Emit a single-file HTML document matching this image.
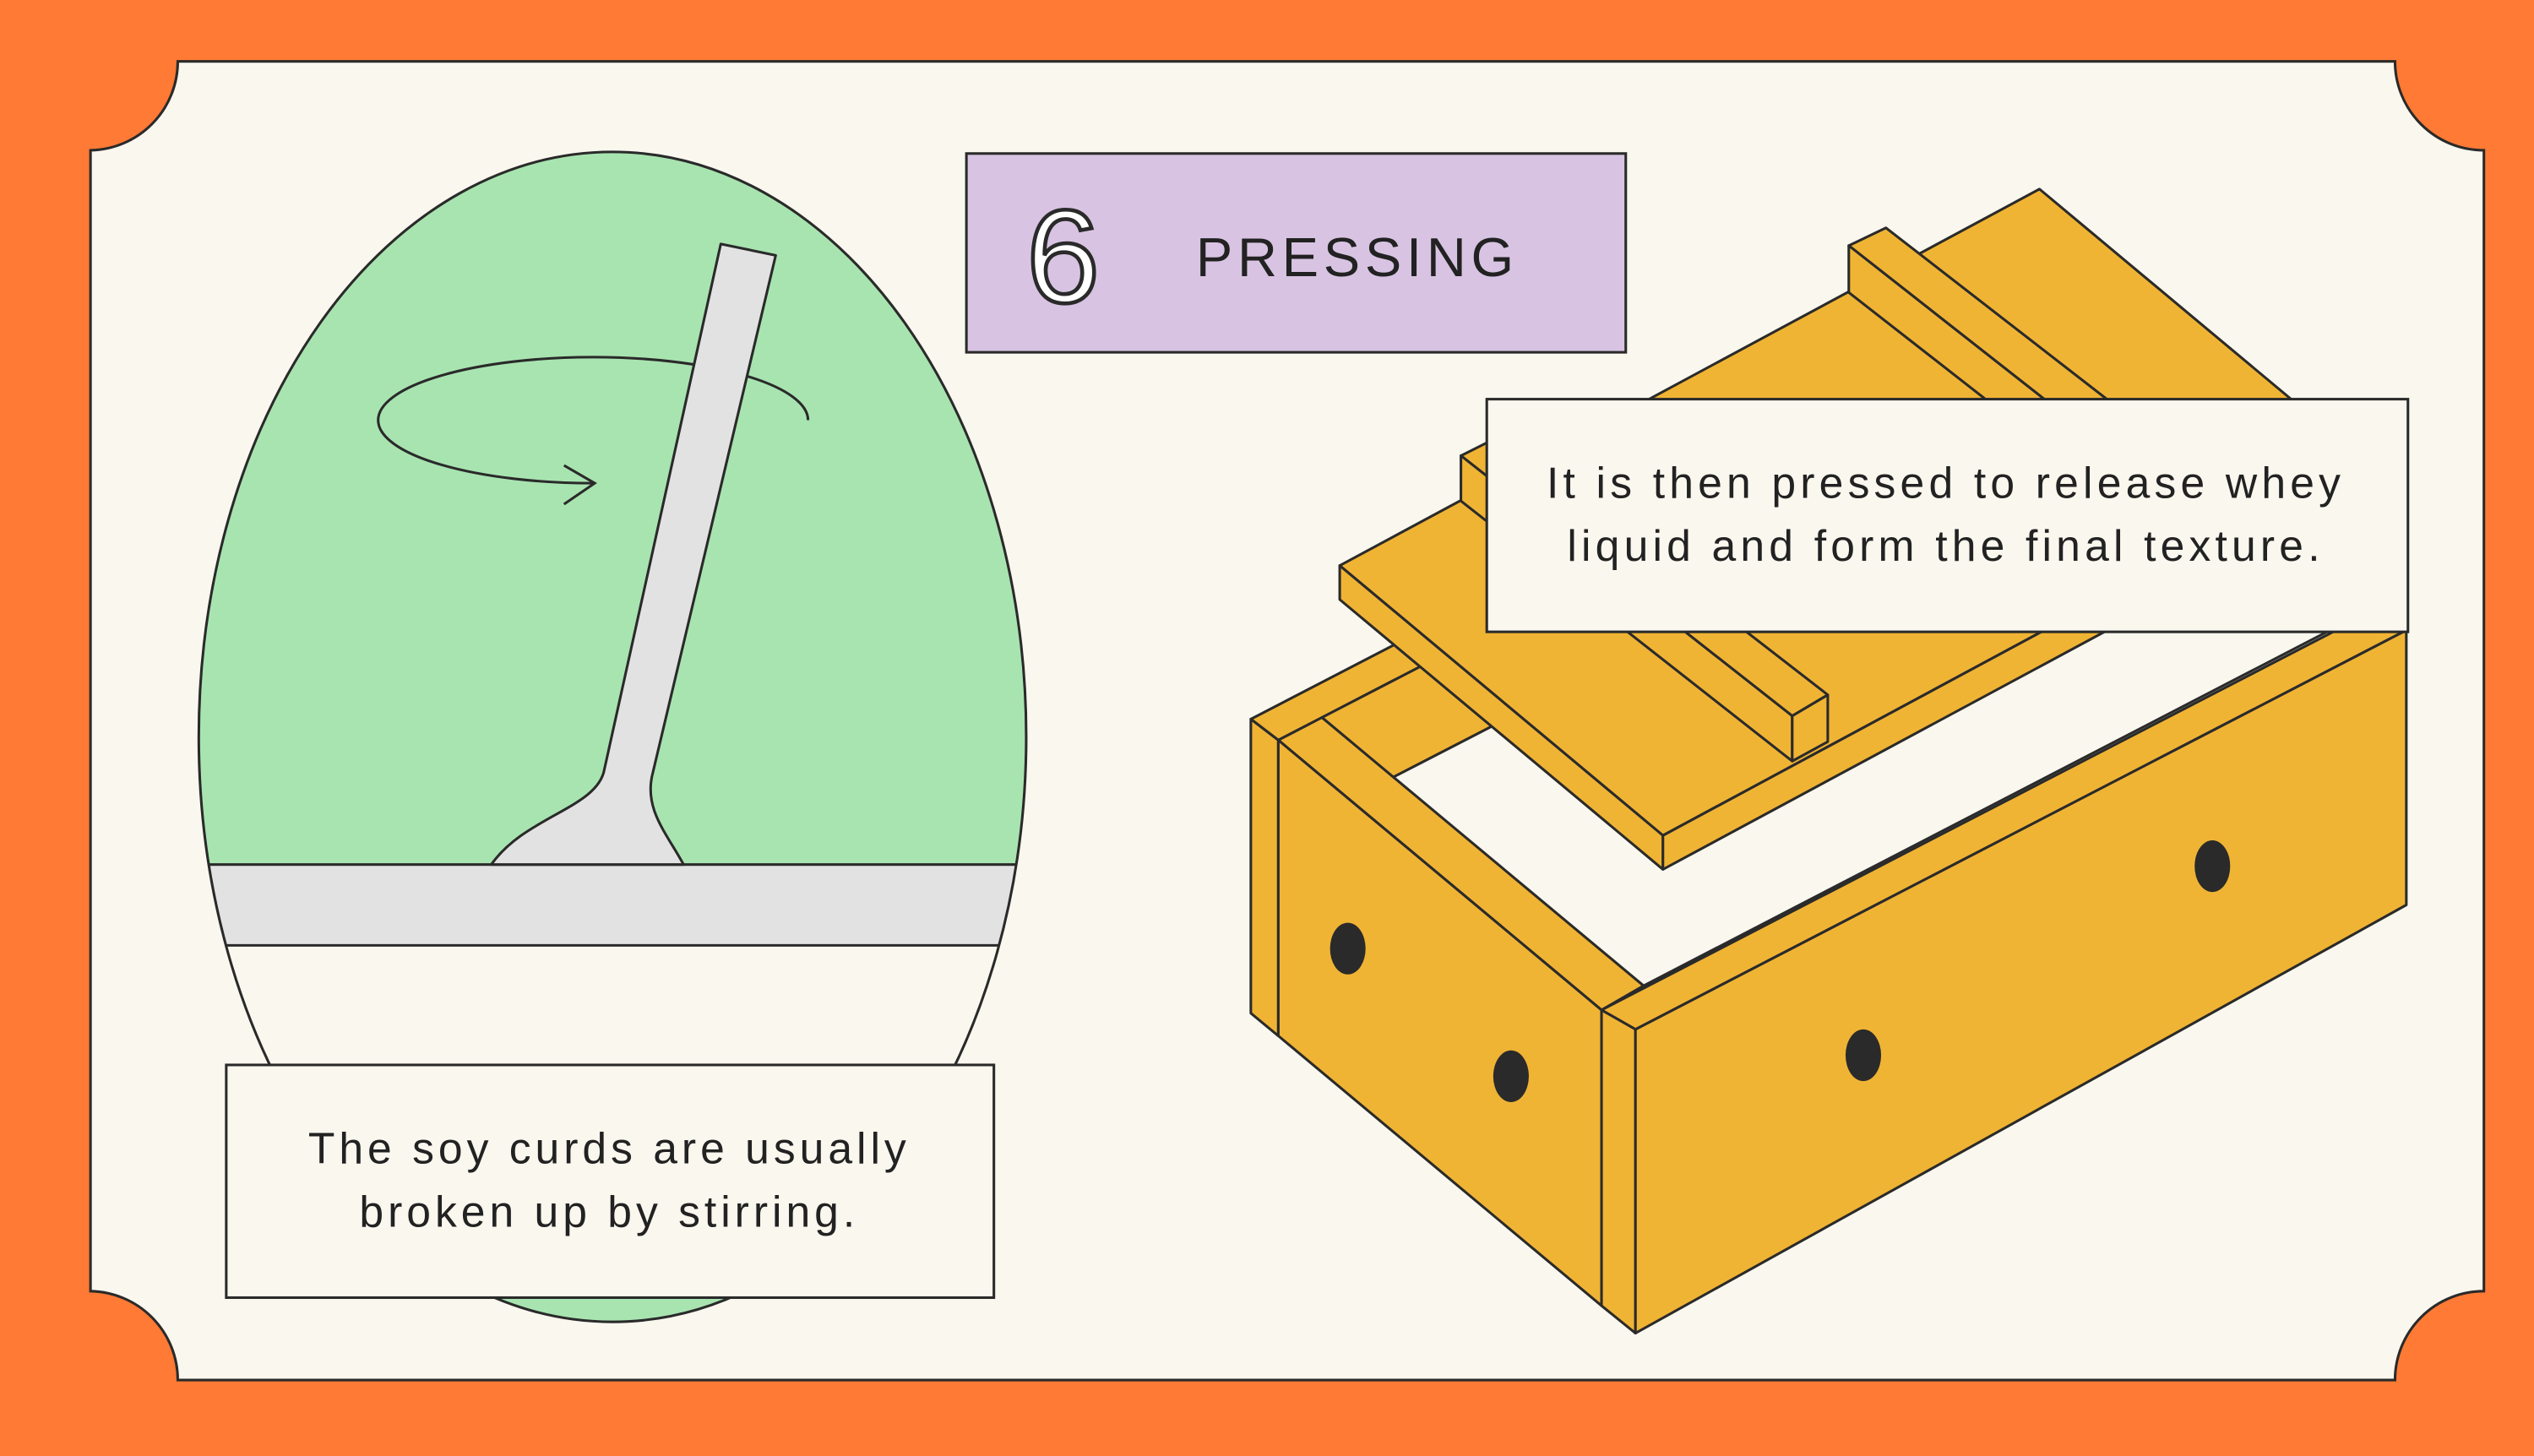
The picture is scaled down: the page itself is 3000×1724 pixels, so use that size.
<!DOCTYPE html>
<html><head><meta charset="utf-8">
<style>
html,body{margin:0;padding:0;background:#FF7A35;}
svg{display:block;}
text{font-family:"Liberation Sans",sans-serif;fill:#222;}
</style></head>
<body>
<svg width="3000" height="1724" viewBox="0 0 1568 901" preserveAspectRatio="none" xmlns="http://www.w3.org/2000/svg">
<rect x="0" y="0" width="1568" height="901" fill="#FF7A35"/>
<path d="M110,38 L1482,38 A55,55 0 0 0 1537,93 L1537,799 A55,55 0 0 0 1482,854 L110,854 A55,55 0 0 0 56,799 L56,93 A55,55 0 0 0 110,38 Z" fill="#F9F7EE" stroke="#2a2a2a" stroke-width="1.6"/>

<defs><clipPath id="ell"><ellipse cx="379" cy="456" rx="256" ry="362"/></clipPath></defs>
<ellipse cx="379" cy="456" rx="256" ry="362" fill="#A8E4B0"/>
<g clip-path="url(#ell)">
<rect x="100" y="585" width="560" height="120" fill="#F9F7EE"/>
<rect x="100" y="535" width="560" height="50" fill="#E2E2E2"/>
<line x1="100" y1="535" x2="660" y2="535" stroke="#2a2a2a" stroke-width="1.6"/>
<line x1="100" y1="585" x2="660" y2="585" stroke="#2a2a2a" stroke-width="1.6"/>
</g>
<ellipse cx="379" cy="456" rx="256" ry="362" fill="none" stroke="#2a2a2a" stroke-width="1.6"/>

<path d="M500,260 A133,39 0 1 0 368,299" fill="none" stroke="#2a2a2a" stroke-width="1.6"/>
<polyline points="349,288 368,299 349,312" fill="none" stroke="#2a2a2a" stroke-width="1.6"/>
<path d="M446,151 L480,158 L404,478 C398,500 412,515 423,535 L304,535 C325,505 370,500 374,476 Z" fill="#E2E2E2" stroke="#2a2a2a" stroke-width="1.6" stroke-linejoin="round"/>

<rect x="598" y="95" width="408" height="123" fill="#D8C4E2" stroke="#2a2a2a" stroke-width="1.6"/>
<text x="635" y="187" font-size="82" style="fill:#fff;stroke:#2a2a2a;stroke-width:2.4">6</text>
<text x="740" y="171" font-size="34" letter-spacing="3">PRESSING</text>

<g stroke="#2a2a2a" stroke-width="1.6" stroke-linejoin="round" fill="#F0B434">
<polygon points="774,445 1266,190 1290,202 1266,212 818,444 791,458"/>
<polygon points="818,444 1266,212 1310,250 862,481"/>
<polygon points="862,481 1017,610 1465,378 1310,250" fill="#F9F7EE"/>
<polygon points="774,445 791,458 791,641 774,627"/>
<polygon points="829,350 1262,117 1462,284 1029,517"/>
<polygon points="829,350 1029,517 1029,538 829,371"/>
<polygon points="1029,517 1462,284 1462,305 1029,538"/>
<polygon points="904,282 926,271 1131,430 1109,443"/>
<polygon points="904,282 1109,443 1109,471 904,310"/>
<polygon points="1109,443 1131,430 1131,459 1109,471"/>
<polygon points="1144,152 1167,141 1372,300 1349,313"/>
<polygon points="1144,152 1349,313 1349,341 1144,181"/>
<polygon points="791,458 818,444 1017,610 991,625"/>
<polygon points="791,458 991,625 991,808 791,641"/>
<polygon points="991,625 1465,380 1489,390 1012,637"/>
<polygon points="991,625 1012,637 1012,825 991,808"/>
<polygon points="1012,637 1489,390 1489,560 1012,825"/>
</g>
<g fill="#2a2a2a">
<ellipse cx="834" cy="587" rx="11" ry="16"/>
<ellipse cx="935" cy="666" rx="11" ry="16"/>
<ellipse cx="1153" cy="653" rx="11" ry="16"/>
<ellipse cx="1369" cy="536" rx="11" ry="16"/>
</g>

<rect x="920" y="247" width="570" height="144" fill="#F9F7EE" stroke="#2a2a2a" stroke-width="1.6"/>
<text x="1204" y="308" font-size="27" letter-spacing="2.7" text-anchor="middle">It is then pressed to release whey</text>
<text x="1204" y="347" font-size="27" letter-spacing="2.7" text-anchor="middle">liquid and form the final texture.</text>

<rect x="140" y="659" width="475" height="144" fill="#F9F7EE" stroke="#2a2a2a" stroke-width="1.6"/>
<text x="377" y="720" font-size="27" letter-spacing="2.6" text-anchor="middle">The soy curds are usually</text>
<text x="377" y="759" font-size="27" letter-spacing="2.6" text-anchor="middle">broken up by stirring.</text>
</svg>
</body></html>
